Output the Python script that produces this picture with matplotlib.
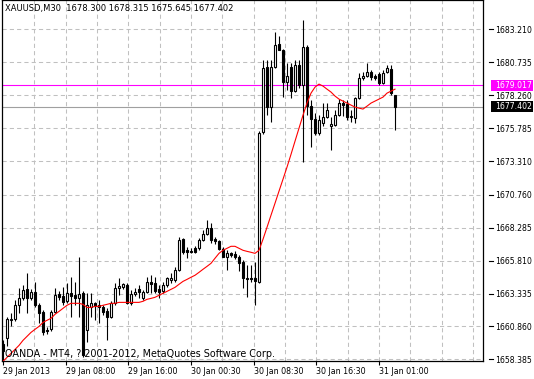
import matplotlib
matplotlib.use("Agg")
import matplotlib.pyplot as plt
from matplotlib.patches import Rectangle
from matplotlib.transforms import blended_transform_factory

symbol = "XAUUSD,M30"
copyright_text = "OANDA - MT4, ? 2001-2012, MetaQuotes Software Corp."

opens = [1659.51, 1659.96, 1661.32, 1661.39, 1662.45, 1662.97, 1663.65, 1662.97, 1663.43, 1662.45,
         1661.92, 1660.56, 1660.64, 1661.92, 1663.27, 1663.12, 1662.75, 1663.35, 1663.20, 1662.97,
         1663.35, 1660.56, 1662.29, 1662.60, 1662.45, 1662.29, 1661.99, 1661.54, 1662.60, 1663.73,
         1663.80, 1663.95, 1662.60, 1663.27, 1663.65, 1662.97, 1663.43, 1664.18, 1664.10, 1663.65,
         1663.50, 1663.95, 1664.33, 1664.33, 1665.08, 1667.42, 1666.59, 1666.51, 1666.74, 1666.74,
         1667.34, 1667.80, 1668.25, 1667.42, 1667.27, 1666.67, 1666.06, 1666.36, 1666.29, 1666.06,
         1665.69, 1664.48, 1664.48, 1664.48, 1664.18, 1675.48, 1680.38, 1677.37, 1680.38, 1682.11,
         1681.66, 1679.25, 1680.38, 1678.57, 1680.53, 1679.02, 1681.89, 1677.44, 1676.46, 1675.41,
         1676.16, 1676.61, 1675.93, 1676.01, 1676.76, 1677.67, 1677.59, 1676.69, 1676.54, 1678.04,
         1679.55, 1679.70, 1680.00, 1679.70, 1679.85, 1679.17, 1680.00, 1680.23, 1678.300]
highs = [1659.81, 1661.54, 1661.84, 1662.82, 1663.73, 1663.95, 1664.86, 1663.65, 1664.18, 1662.60,
         1662.07, 1660.79, 1662.07, 1663.73, 1663.50, 1663.80, 1664.10, 1664.56, 1664.18, 1666.06,
         1663.50, 1663.35, 1663.35, 1662.67, 1662.82, 1662.45, 1662.22, 1662.75, 1664.10, 1664.48,
         1664.10, 1664.10, 1663.58, 1663.73, 1663.95, 1663.58, 1664.56, 1664.71, 1664.56, 1663.95,
         1664.18, 1664.56, 1664.86, 1665.31, 1667.57, 1667.49, 1666.82, 1666.74, 1666.89, 1667.49,
         1668.10, 1668.85, 1668.63, 1667.57, 1667.34, 1666.82, 1666.59, 1666.44, 1666.51, 1666.21,
         1665.84, 1665.46, 1665.46, 1665.69, 1675.56, 1680.91, 1680.91, 1680.91, 1683.02, 1682.72,
         1681.74, 1680.68, 1680.68, 1680.91, 1680.91, 1683.92, 1682.04, 1677.89, 1676.91, 1676.76,
         1677.67, 1677.67, 1676.61, 1677.14, 1677.97, 1677.89, 1677.89, 1677.14, 1678.12, 1679.93,
         1680.00, 1680.68, 1680.15, 1679.85, 1680.00, 1680.15, 1680.53, 1680.53, 1678.315]
lows = [1658.30, 1659.36, 1660.86, 1661.24, 1661.84, 1662.82, 1661.84, 1662.82, 1662.29, 1661.09,
        1660.18, 1660.26, 1660.49, 1661.84, 1662.82, 1662.45, 1662.60, 1661.54, 1662.45, 1661.54,
        1658.53, 1659.66, 1661.54, 1661.32, 1661.09, 1661.69, 1659.81, 1661.47, 1662.45, 1663.20,
        1663.65, 1662.52, 1662.45, 1663.12, 1662.97, 1662.82, 1663.35, 1663.35, 1663.35, 1662.97,
        1663.35, 1663.80, 1664.10, 1664.18, 1665.01, 1666.29, 1665.99, 1666.36, 1666.36, 1666.59,
        1667.27, 1667.72, 1667.12, 1667.04, 1666.59, 1666.06, 1665.08, 1666.06, 1665.91, 1665.01,
        1663.73, 1663.05, 1664.18, 1662.45, 1664.10, 1675.33, 1676.76, 1676.24, 1680.31, 1681.66,
        1678.12, 1678.65, 1678.04, 1678.50, 1678.80, 1673.22, 1676.76, 1674.35, 1675.26, 1675.26,
        1675.93, 1676.54, 1674.13, 1675.93, 1676.69, 1676.69, 1676.39, 1676.24, 1676.16, 1677.97,
        1679.40, 1679.63, 1679.40, 1679.40, 1679.02, 1679.10, 1679.93, 1678.27, 1675.645]
closes = [1658.98, 1661.39, 1661.39, 1662.45, 1662.97, 1663.58, 1662.97, 1663.43, 1662.45, 1661.84,
          1660.41, 1660.49, 1661.92, 1663.20, 1663.05, 1662.67, 1663.35, 1663.12, 1662.97, 1663.27,
          1658.68, 1662.45, 1662.60, 1662.37, 1662.29, 1661.92, 1661.54, 1662.60, 1663.73, 1663.88,
          1664.03, 1662.60, 1663.27, 1663.43, 1663.43, 1663.43, 1664.18, 1664.03, 1663.50, 1663.43,
          1663.95, 1664.48, 1664.48, 1665.08, 1667.34, 1666.44, 1666.44, 1666.44, 1666.44, 1667.34,
          1667.80, 1668.25, 1667.34, 1667.27, 1666.67, 1666.06, 1666.36, 1666.21, 1666.06, 1665.61,
          1664.48, 1664.40, 1664.40, 1664.25, 1675.41, 1680.31, 1677.37, 1680.38, 1682.04, 1681.66,
          1679.25, 1679.70, 1678.57, 1680.53, 1679.02, 1681.89, 1677.44, 1676.46, 1675.41, 1676.39,
          1676.61, 1677.14, 1676.09, 1676.76, 1677.67, 1677.52, 1676.61, 1676.61, 1678.04, 1679.55,
          1679.70, 1680.00, 1679.63, 1679.55, 1679.17, 1679.93, 1680.31, 1678.42, 1677.402]
ma = [1658.23, 1658.53, 1658.83, 1659.13, 1659.43, 1659.81, 1660.11, 1660.41, 1660.64, 1660.86,
      1661.16, 1661.32, 1661.47, 1661.77, 1661.99, 1662.22, 1662.45, 1662.60, 1662.60, 1662.60,
      1662.52, 1662.29, 1662.29, 1662.37, 1662.37, 1662.45, 1662.52, 1662.60, 1662.60, 1662.67,
      1662.67, 1662.67, 1662.67, 1662.67, 1662.67, 1662.75, 1662.90, 1662.97, 1663.05, 1663.20,
      1663.35, 1663.50, 1663.65, 1663.80, 1664.03, 1664.25, 1664.40, 1664.56, 1664.71, 1664.93,
      1665.16, 1665.38, 1665.61, 1665.99, 1666.36, 1666.59, 1666.74, 1666.89, 1666.89, 1666.74,
      1666.59, 1666.51, 1666.44, 1666.36, 1666.59, 1667.42, 1668.32, 1669.23, 1670.13, 1671.04,
      1671.94, 1672.85, 1673.81, 1674.80, 1675.78, 1676.76, 1677.67, 1678.42, 1678.87, 1679.10,
      1678.95, 1678.72, 1678.50, 1678.20, 1677.97, 1677.82, 1677.67, 1677.52, 1677.37, 1677.29,
      1677.22, 1677.44, 1677.67, 1677.82, 1677.97, 1678.12, 1678.42, 1678.57, 1678.72]
ma_level = 1679.017
bid = 1677.402
price_ticks = [1658.385, 1660.860, 1663.335, 1665.810, 1668.285, 1670.760,
               1673.310, 1675.785, 1678.260, 1680.735, 1683.210]
time_labels = ["29 Jan 2013", "29 Jan 08:00", "29 Jan 16:00", "30 Jan 00:30",
               "30 Jan 08:30", "30 Jan 16:30", "31 Jan 01:00"]

W, H = 534, 379
plt.rcParams["font.family"] = ["DejaVu Sans"]

fig = plt.figure(figsize=(W / 100, H / 100), dpi=100)
fig.patch.set_facecolor("white")
renderer = fig.canvas.get_renderer()


def fx(px):
    return px / W


def fy(py):
    return 1 - py / H


def fit_size(sample, target_px, base=7.0):
    t = fig.text(0, 0, sample, fontsize=base)
    w = t.get_window_extent(renderer).width
    t.remove()
    return base * target_px / w


FS_PRICE = fit_size("1683.210", 36.5)
FS_TIME = fit_size("29 Jan 2013", 47)
FS_TITLE = fit_size(f"{symbol}  {opens[-1]:.3f} {highs[-1]:.3f} {lows[-1]:.3f} {closes[-1]:.3f}", 227)
FS_COPY = fit_size(copyright_text, 270)

ax = fig.add_axes([fx(2), fy(361), fx(483) - fx(2), fy(0) - fy(361)])
ax.set_facecolor("white")
ax.set_xlim(-0.25, 120)
ax.set_ylim(1658.257, 1685.43)

# grid
grid_step = 7.8333
for k in range(1, 16):
    ax.axvline(k * grid_step, color="#c0c0c0", lw=0.75, dashes=(4, 3), zorder=0)
for v in price_ticks:
    ax.axhline(v, color="#c0c0c0", lw=0.75, dashes=(4, 3), zorder=0)

# level lines
ax.axhline(ma_level, color="#ff00ff", lw=0.8, zorder=1)
ax.axhline(bid, color="#a0a0a0", lw=0.8, zorder=1)

# candles
bw = 0.5
for i in range(len(opens)):
    o, h, l, c = opens[i], highs[i], lows[i], closes[i]
    ax.vlines(i, l, h, color="black", lw=0.8, zorder=2)
    fc = "white" if c >= o else "black"
    ax.add_patch(Rectangle((i - bw / 2, min(o, c)), bw, abs(c - o),
                           facecolor=fc, edgecolor="black", lw=0.8, zorder=3))

# moving average
ax.plot(range(len(ma)), ma, color="red", lw=0.8, zorder=4)

for s in ax.spines.values():
    s.set_color("black")
    s.set_linewidth(0.9)

# y axis labels on right
ax.yaxis.tick_right()
ax.set_yticks(price_ticks)
ax.set_yticklabels([f"{v:.3f}" for v in price_ticks], fontsize=FS_PRICE)
ax.tick_params(axis="y", length=0, pad=(495 - 483) * 0.72)
trans = blended_transform_factory(fig.transFigure, ax.transData)
for v in price_ticks:
    ax.plot([fx(489), fx(493)], [v, v], transform=trans, color="black",
            lw=0.8, clip_on=False)

# x axis labels
time_pos = [k * 2 * grid_step for k in range(len(time_labels))]
ax.set_xticks(time_pos)
ax.set_xticklabels(time_labels, fontsize=FS_TIME, ha="left")
ax.tick_params(axis="x", length=3, width=0.8, pad=1.5, direction="out")

# price boxes
for val, col in [(ma_level, "#ff00ff"), (bid, "black")]:
    ypx = 29.5 + (1683.210 - val) * 13.285
    fig.patches.append(Rectangle((fx(491), fy(ypx + 5.5)), fx(533) - fx(491), 11 / H,
                                 transform=fig.transFigure, facecolor=col,
                                 edgecolor="none", zorder=5))
    fig.text(fx(495), fy(ypx), f"{val:.3f}", color="white", fontsize=FS_PRICE,
             va="center", ha="left", zorder=6)

# title and copyright
fig.text(fx(5), fy(8), f"{symbol}  {opens[-1]:.3f} {highs[-1]:.3f} {lows[-1]:.3f} {closes[-1]:.3f}",
         fontsize=FS_TITLE, va="center", ha="left")
fig.text(fx(5), fy(354), copyright_text, fontsize=FS_COPY, va="center", ha="left")

fig.savefig("out.png", dpi=100, facecolor="white")
